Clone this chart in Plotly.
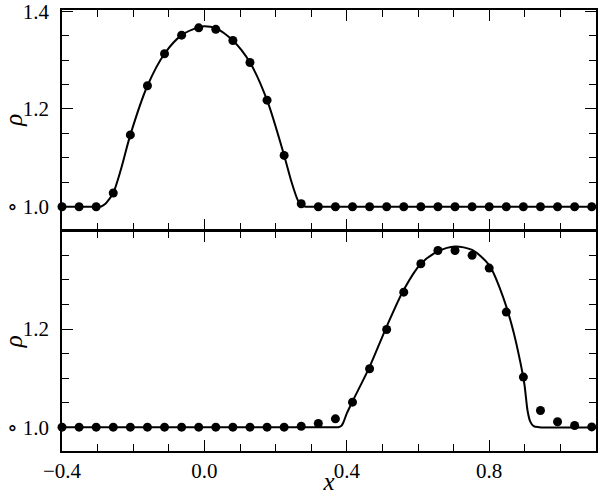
import plotly.graph_objects as go
from plotly.subplots import make_subplots

# sample positions of the dots (same for both panels)
x_dots = [-0.400, -0.352, -0.304, -0.256, -0.208, -0.160, -0.112, -0.064,
          -0.016, 0.032, 0.080, 0.128, 0.176, 0.224, 0.272, 0.320,
          0.368, 0.416, 0.464, 0.512, 0.560, 0.608, 0.656, 0.704,
          0.752, 0.800, 0.848, 0.896, 0.944, 0.992, 1.040, 1.088]

# top panel: density at the start
rho_top_dots = [1.0, 1.0, 1.0, 1.028, 1.147, 1.2475, 1.313, 1.351,
                1.366, 1.363, 1.340, 1.295, 1.218, 1.105, 1.006, 1.0,
                1.0, 1.0, 1.0, 1.0, 1.0, 1.0, 1.0, 1.0,
                1.0, 1.0, 1.0, 1.0, 1.0, 1.0, 1.0, 1.0]

x_top_line = [-0.40, -0.30, -0.29, -0.278, -0.268, -0.256, -0.235, -0.208,
              -0.160, -0.112, -0.064, -0.016, 0.0, 0.032, 0.080, 0.128,
              0.176, 0.224, 0.245, 0.262, 0.272, 0.285, 0.30, 1.10]
rho_top_line = [1.0, 1.0, 1.0005, 1.006, 1.015, 1.028, 1.075, 1.147,
                1.2475, 1.313, 1.351, 1.367, 1.369, 1.365, 1.340, 1.295,
                1.218, 1.105, 1.05, 1.014, 1.003, 1.0, 1.0, 1.0]

# bottom panel: density after advection
rho_bot_dots = [1.0, 1.0, 1.0, 1.0, 1.0, 1.0, 1.0, 1.0,
                1.0, 1.0, 1.0, 1.0, 1.0, 1.0, 1.002, 1.0075,
                1.017, 1.051, 1.119, 1.199, 1.275, 1.333, 1.360, 1.360,
                1.350, 1.324, 1.2345, 1.102, 1.034, 1.011, 1.0035, 1.0006]

x_bot_line = [-0.40, 0.36, 0.376, 0.385, 0.39, 0.40, 0.415, 0.464,
              0.512, 0.560, 0.608, 0.656, 0.704, 0.752, 0.800, 0.840,
              0.868, 0.887, 0.899, 0.908, 0.915, 0.925, 0.94, 1.10]
rho_bot_line = [1.0, 1.0, 1.0, 1.003, 1.009, 1.028, 1.051, 1.123,
                1.205, 1.280, 1.333, 1.358, 1.368, 1.361, 1.330, 1.263,
                1.195, 1.134, 1.087, 1.0325, 1.012, 1.002, 1.0, 1.0]

FONT = "Liberation Serif, DejaVu Serif, serif"
LW = 1.6  # frame line width

fig = make_subplots(rows=2, cols=1, shared_xaxes=True,
                    vertical_spacing=LW / 441)

for row, (xl, yl, yd) in enumerate([(x_top_line, rho_top_line, rho_top_dots),
                                    (x_bot_line, rho_bot_line, rho_bot_dots)], start=1):
    fig.add_trace(go.Scatter(
        x=xl, y=yl, mode="lines",
        line=dict(color="black", width=2, shape="spline", smoothing=0.8),
        showlegend=False, cliponaxis=False,
    ), row=row, col=1)
    fig.add_trace(go.Scatter(
        x=x_dots, y=yd, mode="markers",
        marker=dict(color="black", size=9),
        showlegend=False, cliponaxis=False,
    ), row=row, col=1)

axis_style = dict(
    showline=True, linecolor="black", linewidth=LW, mirror="allticks",
    ticks="inside", ticklen=11, tickwidth=1.2, tickcolor="black",
    showgrid=False, zeroline=False, tickformat=".1f", automargin=False,
    ticklabeloverflow="allow",
)

fig.update_xaxes(
    range=[-0.4, 1.1], tickvals=[-0.4, 0.0, 0.4, 0.8],
    minor=dict(ticks="inside", ticklen=7, tickwidth=1.2, tickcolor="black",
               tick0=0, dtick=0.1, showgrid=False),
    **axis_style,
)
fig.update_xaxes(title=dict(text="<i>x</i>", standoff=3), row=2, col=1)

fig.update_yaxes(
    minor=dict(ticks="inside", ticklen=7, tickwidth=1.2, tickcolor="black",
               tick0=1.0, dtick=0.05, showgrid=False),
    title=dict(text="<i>ρ</i>", standoff=15),
    ticklabelstandoff=7,
    **axis_style,
)
fig.update_yaxes(range=[0.953, 1.4025], tickvals=[1.0, 1.2, 1.4], row=1, col=1)
fig.update_yaxes(range=[0.9515, 1.399], tickvals=[1.0, 1.2], row=2, col=1)

# small open circle glyphs left of the 1.0 labels
for yref in ["y", "y2"]:
    fig.add_annotation(text="∘", x=-0.106, xref="paper", y=1.0, yref=yref,
                       showarrow=False, font=dict(size=22, color="black"))

fig.update_layout(
    width=600, height=495,
    margin=dict(l=62, r=4, t=10, b=44),
    paper_bgcolor="white", plot_bgcolor="white",
    font=dict(family=FONT, size=21, color="black"),
)

# drop the browser's default 8px body margin so the figure sits at (0, 0)
fig.write_html("out.html", config={"displayModeBar": False},
               post_script="document.body.style.margin='0px';")
